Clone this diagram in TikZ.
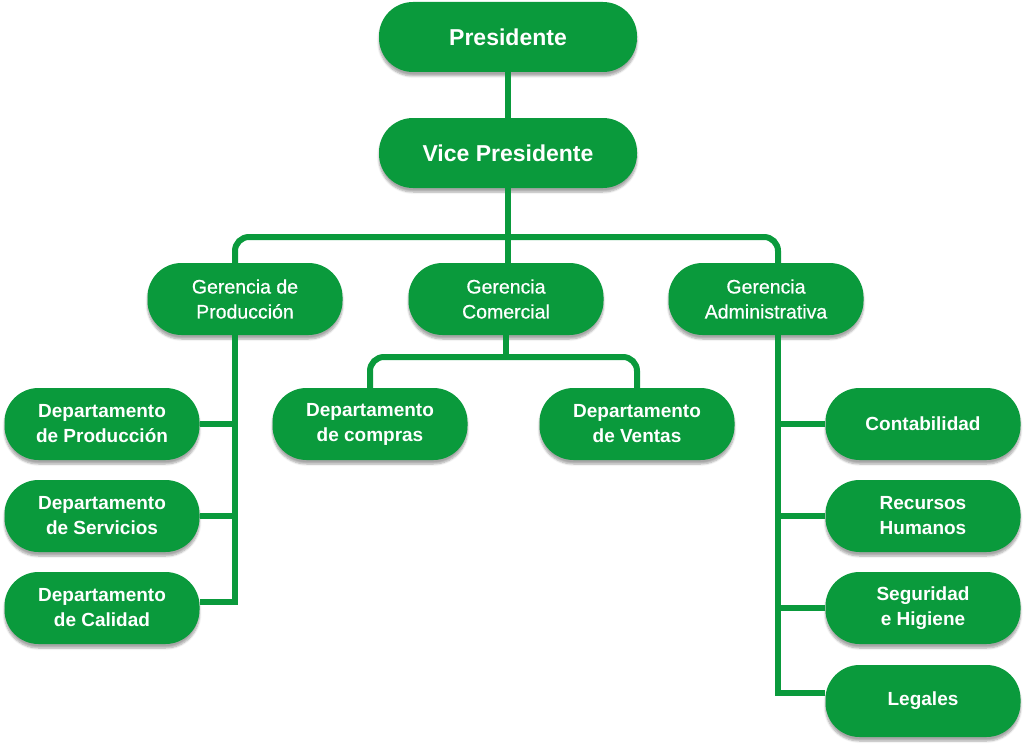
\documentclass[tikz,border=0pt]{standalone}
\usepackage{fontspec}
\setmainfont{Liberation Sans}
\newfontfamily\medio[FakeBold=0.7]{Liberation Sans}
\usetikzlibrary{shadows.blur}
\definecolor{verde}{RGB}{10,154,60}
\tikzset{
  caja/.style={fill=verde, text=white, rounded corners=34pt,
               minimum width=195pt, minimum height=72pt, align=center,
               blur shadow={shadow xshift=0pt, shadow yshift=-4pt,
                            shadow opacity=35, shadow blur steps=6}},
  jefe/.style={caja, minimum width=258pt, minimum height=70pt,
               font=\bfseries\fontsize{23}{28}\selectfont},
  gerencia/.style={caja, font=\medio\fontsize{19.5}{25}\selectfont},
  depto/.style={caja, font=\bfseries\fontsize{19}{25}\selectfont},
  enlace/.style={draw=verde, line width=6pt},
}

\begin{document}
\begin{tikzpicture}[x=1pt, y=-1pt]
\useasboundingbox (0,0) rectangle (1024,749);

%% 上层
\node[jefe] (pres) at (508,37) {Presidente};
\node[jefe] (vp) at (508,153) {Vice Presidente};

%% 三个部门
\node[gerencia] (gp) at (245,299) {Gerencia de\\Producción};
\node[gerencia] (gc) at (506,299) {Gerencia\\Comercial};
\node[gerencia] (ga) at (766,299) {Gerencia\\Administrativa};

%% 左边
\node[depto] (dprod) at (102,424) {Departamento\\de Producción};
\node[depto] (dserv) at (102,516) {Departamento\\de Servicios};
\node[depto] (dcal) at (102,608) {Departamento\\de Calidad};

%% 中间
\node[depto] (dcomp) at (370,424) {Departamento\\de compras};
\node[depto] (dvent) at (637,424) {Departamento\\de Ventas};

%% 右边
\node[depto] (cont) at (923,424) {Contabilidad};
\node[depto] (rrhh) at (923,516) {Recursos\\Humanos};
\node[depto] (seg) at (923,608) {Seguridad\\e Higiene};
\node[depto] (leg) at (923,701) {Legales};

%% 连线
\coordinate (bus) at (508,237);
\coordinate (cbus) at (506,357);
\coordinate (lx) at (235,0);
\coordinate (rx) at (778,0);

\draw[enlace] (pres.south) -- (vp.north);
\draw[enlace] (vp.south) -- (bus);
\draw[enlace, rounded corners=14pt] (gp.north -| lx) |- (bus) -| (ga.north -| rx);
\draw[enlace] (bus) -- (bus |- gc.north);

\draw[enlace] (gc.south) -- (cbus);
\draw[enlace, rounded corners=14pt] (dcomp.north) |- (cbus) -| (dvent.north);

\draw[enlace] (gp.south -| lx) |- ([yshift=6pt]dcal.east);
\foreach \n in {dprod, dserv}
  \draw[enlace] (\n.east) -- (\n.east -| lx);

\draw[enlace] (ga.south -| rx) |- ([yshift=8pt]leg.west);
\foreach \n in {cont, rrhh, seg}
  \draw[enlace] (\n.west) -- (\n.west -| rx);
\end{tikzpicture}
\end{document}
